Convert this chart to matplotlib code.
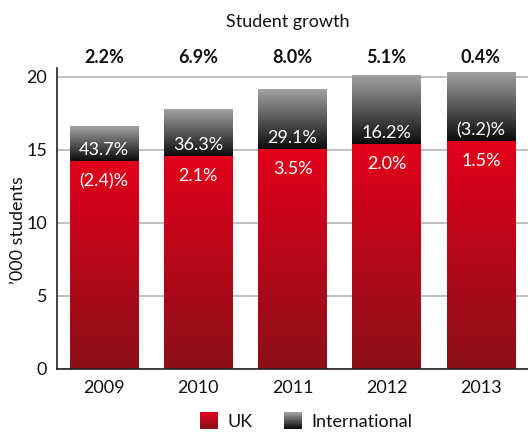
import numpy as np
import matplotlib
matplotlib.use("Agg")
import matplotlib.pyplot as plt
from matplotlib.patches import Rectangle
from matplotlib.colors import LinearSegmentedColormap
from matplotlib.legend_handler import HandlerBase

plt.rcParams['font.family'] = ['Lato', 'DejaVu Sans']

years = ['2009', '2010', '2011', '2012', '2013']
uk = [14.25, 14.57, 15.08, 15.38, 15.60]
intl = [2.33, 3.17, 4.05, 4.72, 4.67]
total_growth = ['2.2%', '6.9%', '8.0%', '5.1%', '0.4%']
uk_growth = ['(2.4)%', '2.1%', '3.5%', '2.0%', '1.5%']
intl_growth = ['43.7%', '36.3%', '29.1%', '16.2%', '(3.2)%']

red_top, red_bot = '#e3001b', '#8a1018'
grey_top, grey_bot = '#a2a2a4', '#0c0c0c'
red_cmap = LinearSegmentedColormap.from_list('r', [red_bot, red_top])
grey_cmap = LinearSegmentedColormap.from_list('g', [grey_bot, grey_top])

fig = plt.figure(figsize=(5.28, 4.34), dpi=100)
ax = fig.add_axes([0.108, 0.150, 0.892, 0.693])

x = np.arange(len(years))
b1 = ax.bar(x, uk, width=0.73, color='none', zorder=3)
b2 = ax.bar(x, intl, bottom=uk, width=0.73, color='none', zorder=3)

grad = np.linspace(0, 1, 256).reshape(-1, 1)
for bars, cmap in ((b1, red_cmap), (b2, grey_cmap)):
    for p in bars:
        x0, y0, w, h = p.get_x(), p.get_y(), p.get_width(), p.get_height()
        ax.imshow(grad, cmap=cmap, origin='lower', aspect='auto',
                  extent=(x0, x0 + w, y0, y0 + h), zorder=3, interpolation='bilinear')

ax.set_xlim(-0.5, 4.5)
ax.set_ylim(0, 20.6)
ax.set_yticks([0, 5, 10, 15, 20])
ax.set_xticks(x)
ax.set_xticklabels(years)
ax.tick_params(axis='both', length=0, labelsize=13, colors='#111111')
ax.tick_params(axis='y', pad=7)
ax.tick_params(axis='x', pad=8)
ax.yaxis.grid(True, color='#b4b4b4', linewidth=1.2, zorder=0)
ax.set_axisbelow(True)
for s in ('top', 'right'):
    ax.spines[s].set_visible(False)
for s in ('left', 'bottom'):
    ax.spines[s].set_color('#222222')
    ax.spines[s].set_linewidth(1.2)
    ax.spines[s].set_zorder(5)

ax.set_ylabel("\u2019000 students", fontsize=13, color='#111111')
ax.yaxis.set_label_coords(-0.066, 0.46)

for i in range(len(years)):
    ax.annotate(uk_growth[i], (x[i], uk[i]), xytext=(0, -14.5), textcoords='offset points',
                ha='center', va='center', color='white', fontsize=13, zorder=6)
    ax.annotate(intl_growth[i], (x[i], uk[i]), xytext=(0, 8), textcoords='offset points',
                ha='center', va='center', color='white', fontsize=13, zorder=6)
    ax.text(x[i], 1.037, total_growth[i], transform=ax.get_xaxis_transform(),
            ha='center', va='center', fontsize=13, fontweight='bold', color='#111111')

fig.text(288 / 528, 1 - 22 / 434, 'Student growth', ha='center', va='center',
         fontsize=13, color='#111111')


class GradHandler(HandlerBase):
    def __init__(self, cmap):
        super().__init__()
        self.cmap = cmap

    def create_artists(self, legend, orig_handle, xdescent, ydescent, width, height,
                       fontsize, trans):
        n = 20
        arts = []
        for k in range(n):
            r = Rectangle((-xdescent, -ydescent + height * k / n), width, height / n + 0.3,
                          facecolor=self.cmap((k + 0.5) / n), edgecolor='none',
                          transform=trans)
            arts.append(r)
        return arts


h_uk = Rectangle((0, 0), 1, 1)
h_int = Rectangle((0, 0), 1, 1)
fig.legend([h_uk, h_int], ['UK', 'International'],
           handler_map={h_uk: GradHandler(red_cmap), h_int: GradHandler(grey_cmap)},
           loc='center', bbox_to_anchor=(0.58, 0.03), ncol=2, frameon=False,
           fontsize=13, handlelength=1.0, handleheight=1.0, handletextpad=0.55,
           columnspacing=1.7, labelcolor='#111111')

fig.savefig('out.png', dpi=100)
